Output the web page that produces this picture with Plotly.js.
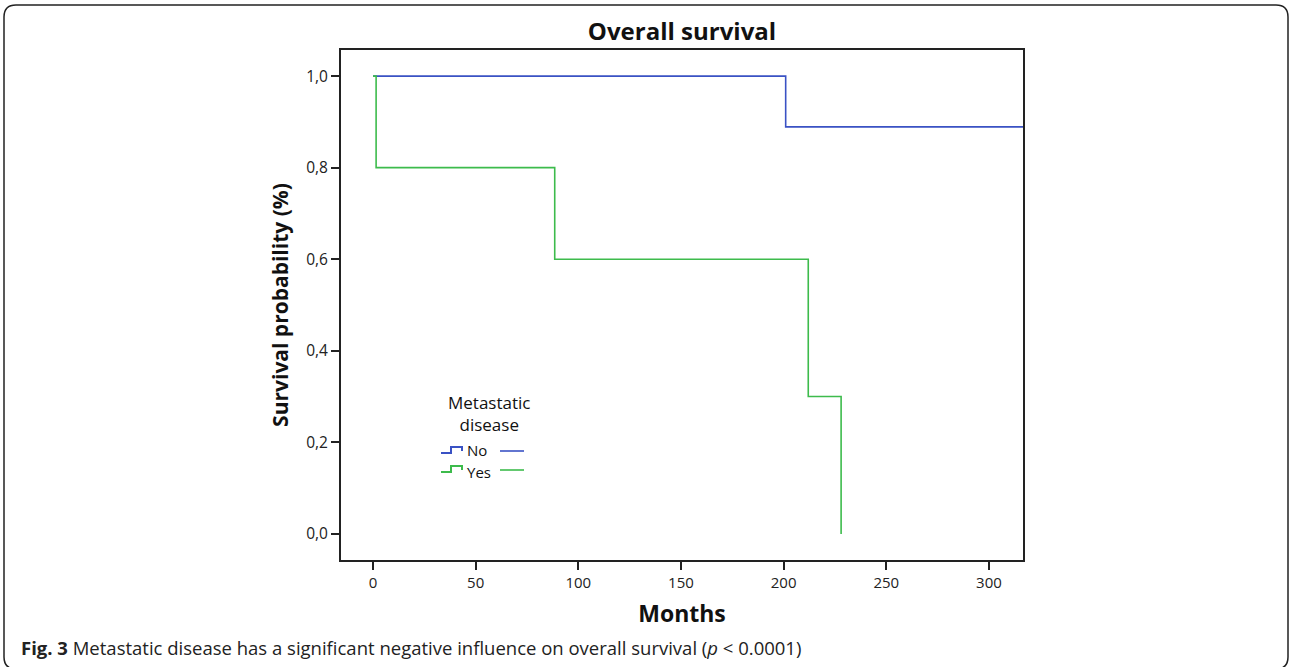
<!DOCTYPE html>
<html>
<head>
<meta charset="utf-8">
<script src="https://cdn.plot.ly/plotly-3.0.1.min.js"></script>
<style>
html,body{margin:0;padding:0;background:#fff;}
#chart{width:1290px;height:667px;}
</style>
</head>
<body>
<div id="chart"></div>
<script>
// ---- data ----
const monthsNo = [0, 201, 316.6];
const survNo = [1.0, 0.889, 0.889];
const monthsYes = [0, 1.5, 88.5, 212, 228];
const survYes = [1.0, 0.8, 0.6, 0.3, 0.0];
const xTicks = [0, 50, 100, 150, 200, 250, 300];
const yTicks = [0, 0.2, 0.4, 0.6, 0.8, 1.0];
const yTickLabels = ["0,0", "0,2", "0,4", "0,6", "0,8", "1,0"];
const groupNames = ["No", "Yes"];
const legendTitle = "Metastatic<br>disease";

const blue = "#3a52c4";
const green = "#3dbb4c";
const FONT = "Open Sans, DejaVu Sans, sans-serif";

// plot area in pixels
const L = 341, R = 1023, T = 50, B = 560;
const W = 1290, H = 667;
const px = x => (x - L) / (R - L);
const py = y => (B - y) / (B - T);

const traces = [
  {x: monthsNo, y: survNo, type: "scatter", mode: "lines", line: {shape: "hv", color: blue, width: 1.6}, name: groupNames[0], showlegend: false, hoverinfo: "x+y"},
  {x: monthsYes, y: survYes, type: "scatter", mode: "lines", line: {shape: "hv", color: green, width: 1.6}, name: groupNames[1], showlegend: false, hoverinfo: "x+y"}
];

function roundRect(x0, y0, x1, y1, r) {
  const rx = r / (R - L), ry = r / (B - T);
  const X0 = px(x0), X1 = px(x1), Yt = py(y0), Yb = py(y1);
  return `M ${X0},${Yt - ry} Q ${X0},${Yt} ${X0 + rx},${Yt} L ${X1 - rx},${Yt} Q ${X1},${Yt} ${X1},${Yt - ry} L ${X1},${Yb + ry} Q ${X1},${Yb} ${X1 - rx},${Yb} L ${X0 + rx},${Yb} Q ${X0},${Yb} ${X0},${Yb + ry} Z`;
}
function stepIcon(x, y) {
  // small step glyph for legend
  return `M ${px(x)},${py(y + 3)} L ${px(x + 10)},${py(y + 3)} L ${px(x + 10)},${py(y - 3)} L ${px(x + 21)},${py(y - 3)} L ${px(x + 21)},${py(y + 1)}`;
}

const shapes = [
  {type: "path", xref: "paper", yref: "paper", path: roundRect(4, 5, 1288, 669, 12), line: {color: "#222", width: 1.5}, fillcolor: "rgba(0,0,0,0)", layer: "below"},
  {type: "path", xref: "paper", yref: "paper", path: stepIcon(441, 450), line: {color: blue, width: 2}},
  {type: "path", xref: "paper", yref: "paper", path: stepIcon(441, 469), line: {color: green, width: 2}},
  {type: "line", xref: "paper", yref: "paper", x0: px(500), x1: px(524), y0: py(451), y1: py(451), line: {color: blue, width: 1.6}},
  {type: "line", xref: "paper", yref: "paper", x0: px(500), x1: px(524), y0: py(470), y1: py(470), line: {color: green, width: 1.6}}
];

const annotations = [
  {xref: "paper", yref: "paper", x: px(489), y: py(413), text: legendTitle, showarrow: false, font: {family: FONT, size: 17, color: "#111"}, align: "center", xanchor: "center", yanchor: "middle"},
  {xref: "paper", yref: "paper", x: px(465), y: py(450), text: groupNames[0], showarrow: false, font: {family: FONT, size: 15, color: "#111"}, xanchor: "left", yanchor: "middle"},
  {xref: "paper", yref: "paper", x: px(465), y: py(471.5), text: groupNames[1], showarrow: false, font: {family: FONT, size: 15, color: "#111"}, xanchor: "left", yanchor: "middle"},
  {xref: "paper", yref: "paper", x: px(19), y: py(647), text: "<b>Fig. 3</b> Metastatic disease has a significant negative influence on overall survival (<i>p</i> &lt; 0.0001)", showarrow: false, font: {family: FONT, size: 18.5, color: "#222"}, xanchor: "left", yanchor: "middle"}
];

const layout = {
  width: W, height: H,
  margin: {l: L, r: W - R, t: T, b: H - B, pad: 0},
  paper_bgcolor: "#fff", plot_bgcolor: "#fff",
  showlegend: false,
  title: {text: "<b>Overall survival</b>", font: {family: FONT, size: 24, color: "#111"}, x: 0.5, xref: "paper", xanchor: "center", y: 1 - 32 / H, yref: "container", yanchor: "middle"},
  xaxis: {
    range: [-15.6, 316.6], tickvals: xTicks, ticktext: xTicks.map(String),
    ticks: "outside", ticklen: 8, tickwidth: 2, tickcolor: "#222",
    showline: true, linecolor: "#222", linewidth: 2, mirror: true,
    showgrid: false, zeroline: false,
    tickfont: {family: FONT, size: 15, color: "#222"},
    title: {text: "<b>Months</b>", font: {family: FONT, size: 23, color: "#111"}, standoff: 15}
  },
  yaxis: {
    range: [-0.057, 1.057], tickvals: yTicks, ticktext: yTickLabels,
    ticks: "outside", ticklen: 8, tickwidth: 2, tickcolor: "#222",
    showline: true, linecolor: "#222", linewidth: 2, mirror: true,
    showgrid: false, zeroline: false,
    tickfont: {family: FONT, size: 15.5, color: "#222"},
    title: {text: "<b>Survival probability (%)</b>", font: {family: FONT, size: 21, color: "#111"}, standoff: 12}
  },
  shapes: shapes,
  annotations: annotations
};

Plotly.newPlot("chart", traces, layout, {displayModeBar: false, staticPlot: true});
</script>
</body>
</html>
